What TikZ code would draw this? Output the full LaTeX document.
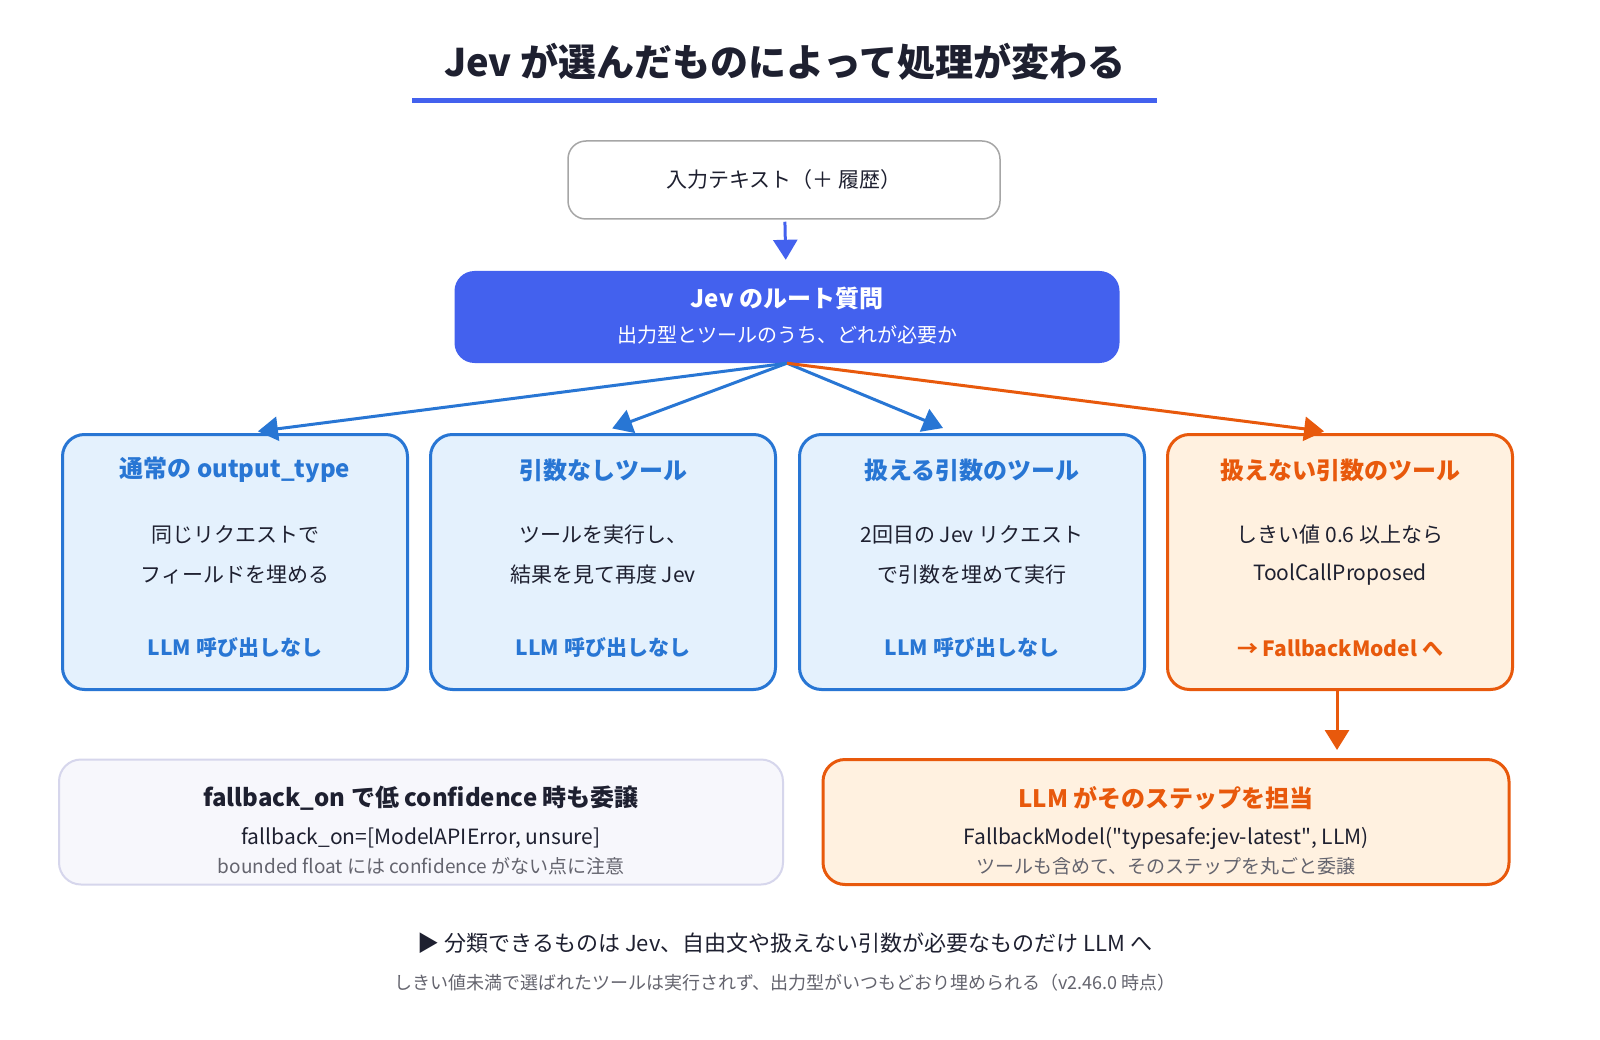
\documentclass[tikz,border=0pt]{standalone}
\usepackage{fontspec}
\setmainfont{Noto Sans CJK JP}
\usetikzlibrary{arrows.meta,positioning}
\definecolor{jvblue}{RGB}{67,97,238}
\definecolor{jvmid}{RGB}{40,118,212}
\definecolor{jvlight}{RGB}{228,241,253}
\definecolor{jvorange}{RGB}{232,89,12}
\definecolor{jvlightorange}{RGB}{255,241,224}
\definecolor{jvdark}{RGB}{30,32,48}
\definecolor{jvgray}{RGB}{100,100,110}
\definecolor{jvpale}{RGB}{247,247,252}
\definecolor{jvpaleborder}{RGB}{214,214,236}
\tikzstyle{arrow} = [line width=3pt,-{Triangle[length=20pt,width=24pt]},color=jvmid]
\tikzstyle{choice} = [rectangle, rounded corners=22pt, minimum width=345pt, minimum height=255pt, line width=3pt, draw=jvmid, fill=jvlight]
\tikzstyle{note} = [rectangle, rounded corners=22pt, minimum height=125pt, line width=2pt]
\tikzstyle{hd} = [font=\fontsize{24}{28}\selectfont\bfseries]
\tikzstyle{bd} = [font=\fontsize{21}{26}\selectfont, text=jvdark]
\tikzstyle{sm} = [font=\fontsize{19}{22}\selectfont, text=jvgray]

\begin{document}
\begin{tikzpicture}[x=1pt,y=-1pt]
\useasboundingbox[fill=white] (0,0) rectangle (1600,1040);
% Title
\node[font=\fontsize{38}{44}\selectfont\bfseries, text=jvdark] (title) at (785,62) {Jev が選んだものによって処理が変わる};
\draw[jvblue, line width=5pt] (412,101) -- (1157,101);

% Input and root question
\node[rectangle, rounded corners=18pt, minimum width=432pt, minimum height=78pt, draw=gray!70, line width=1.5pt, bd] (input) at (784,180) {入力テキスト（＋ 履歴）};
\node[rectangle, rounded corners=20pt, minimum width=665pt, minimum height=92pt, fill=jvblue, align=center, text=white] (root) at (787,317) {};
\node[hd, text=white] at (787,298) {Jev のルート質問};
\node[font=\fontsize{20}{24}\selectfont, text=white] at (787,335) {出力型とツールのうち、どれが必要か};
\draw[arrow, color=jvblue, shorten >=11pt, shorten <=2pt] (input) -- (root);

% Choices
\node[choice] (plain) at (235,562) {};
\node[choice] (noarg) at (603,562) {};
\node[choice] (okarg) at (972,562) {};
\node[choice, draw=jvorange, fill=jvlightorange] (badarg) at (1340,562) {};
\foreach \b/\t/\l/\m/\e in {plain/通常の output\_type/同じリクエストで/フィールドを埋める/LLM 呼び出しなし,
    noarg/引数なしツール/ツールを実行し、/結果を見て再度 Jev/LLM 呼び出しなし,
    okarg/扱える引数のツール/2回目の Jev リクエスト/で引数を埋めて実行/LLM 呼び出しなし} {
  \node[hd, text=jvmid] at ([yshift=-37pt]\b.north) {\t};
  \node[bd] at ([yshift=-102pt]\b.north) {\l};
  \node[bd] at ([yshift=-142pt]\b.north) {\m};
  \node[font=\fontsize{21}{26}\selectfont\bfseries, text=jvmid] at ([yshift=-215pt]\b.north) {\e};
}
\node[hd, text=jvorange] at ([yshift=-37pt]badarg.north) {扱えない引数のツール};
\node[bd] at ([yshift=-102pt]badarg.north) {しきい値 0.6 以上なら};
\node[bd] at ([yshift=-142pt]badarg.north) {ToolCallProposed};
\node[font=\fontsize{21}{26}\selectfont\bfseries, text=jvorange] at ([yshift=-215pt]badarg.north) {→ FallbackModel へ};

\draw[arrow, shorten >=13pt] (root.south) -- ([xshift=10pt]plain.north);
\draw[arrow, shorten >=13pt] (root.south) -- ([xshift=-3pt]noarg.north);
\draw[arrow, shorten >=13pt] (root.south) -- ([xshift=-17pt]okarg.north);
\draw[arrow, color=jvorange, shorten >=13pt] (root.south) -- ([xshift=-3pt]badarg.north);

% Bottom notes
\node[note, minimum width=724pt, draw=jvpaleborder, fill=jvpale] (conf) at (421,822) {};
\node[hd, text=jvdark] at (421,798) {fallback\_on で低 confidence 時も委譲};
\node[bd] at (421,838) {fallback\_on=[ModelAPIError, unsure]};
\node[sm] at (421,866) {bounded float には confidence がない点に注意};
\node[note, minimum width=686pt, draw=jvorange, line width=3pt, fill=jvlightorange] (llm) at (1166,822) {};
\node[hd, text=jvorange] at (1166,798) {LLM がそのステップを担当};
\node[bd] at (1166,838) {FallbackModel(\textquotedbl typesafe:jev-latest\textquotedbl, LLM)};
\node[sm] at (1166,866) {ツールも含めて、そのステップを丸ごと委譲};
\draw[arrow, color=jvorange, shorten >=8pt] (badarg.south -| 1337,0) -- (llm.north -| 1337,0);

% Footer
\node[font=\fontsize{22}{26}\selectfont, text=jvdark] (summary) at (785,943) {▶ 分類できるものは Jev、自由文や扱えない引数が必要なものだけ LLM へ};
\node[font=\fontsize{18}{22}\selectfont, text=jvgray] (caveat) at (785,983) {しきい値未満で選ばれたツールは実行されず、出力型がいつもどおり埋められる（v2.46.0 時点）};
\end{tikzpicture}
\end{document}
